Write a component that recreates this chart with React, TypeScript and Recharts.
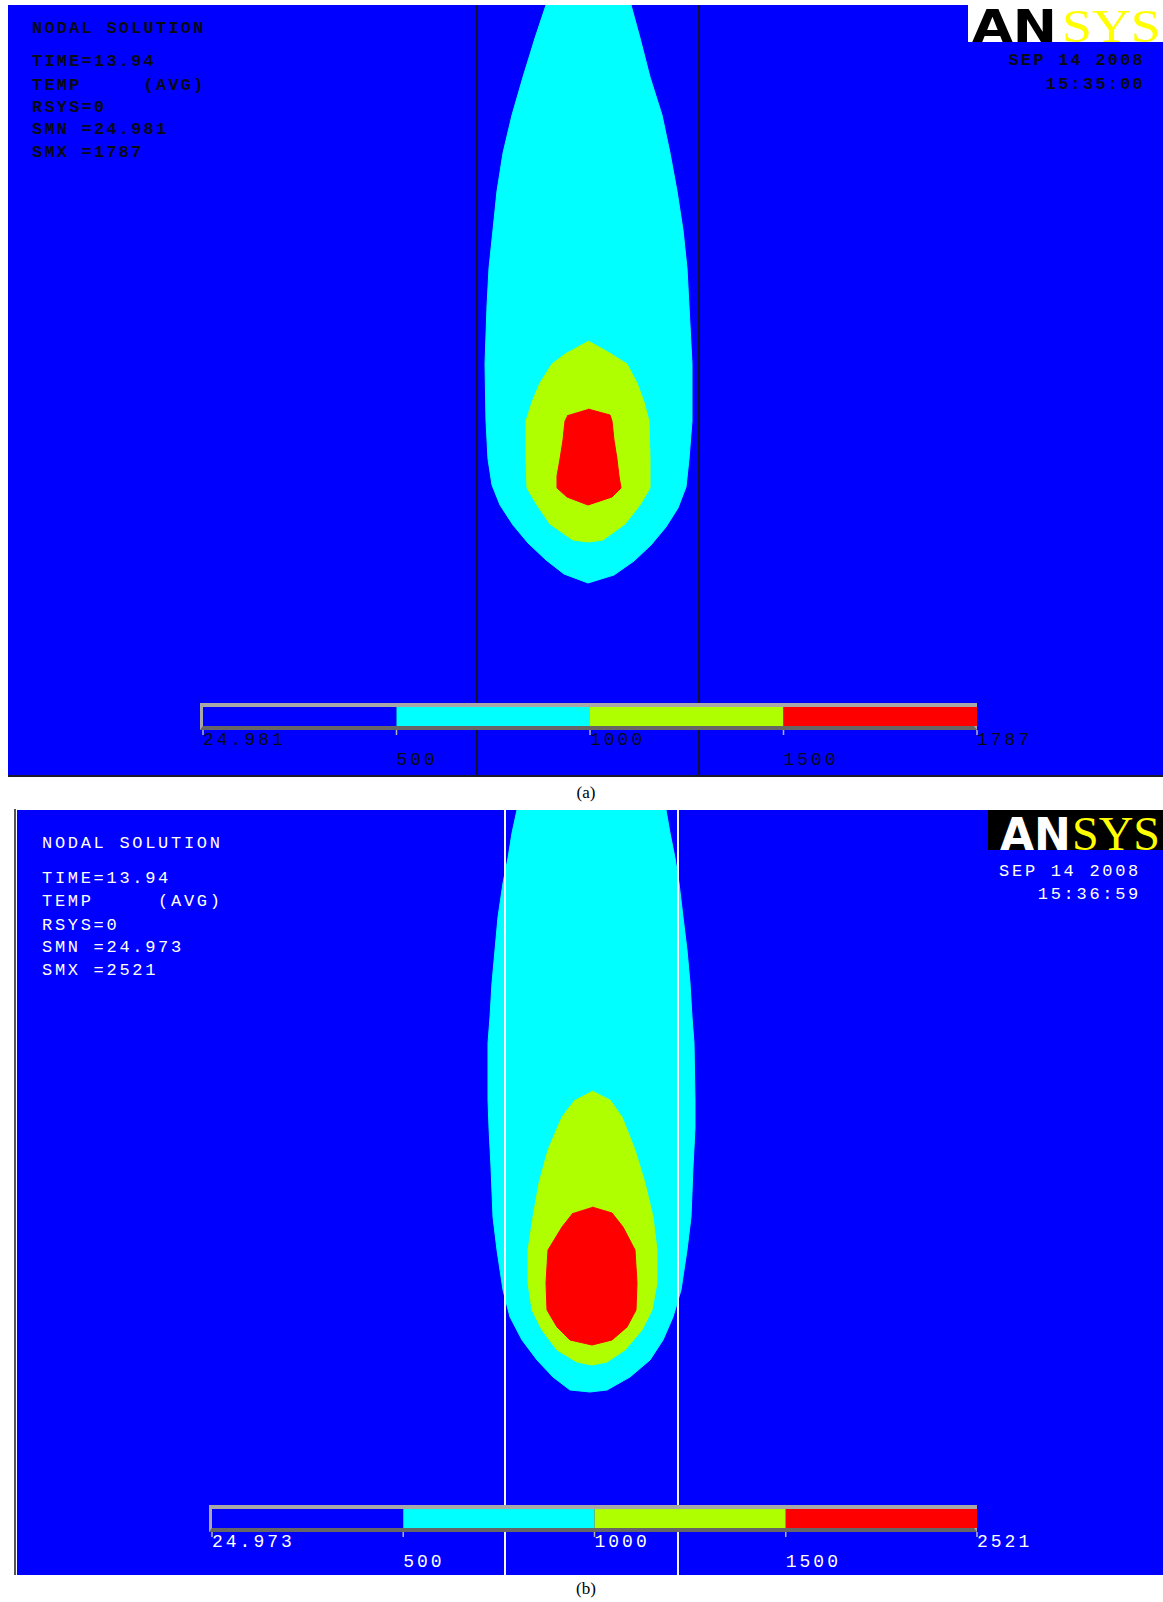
import React from "react";
import {
  Bar,
  BarChart,
  ComposedChart,
  ReferenceLine,
  Scatter,
  XAxis,
  YAxis,
} from "recharts";

type Pair = [number, number];

// isotherm outlines, in frame units
// (x from the frame's left edge, y down from its top edge)
const cyanA: Pair[] = [
  [538, 0], [527, 33], [515, 72], [504, 110], [495, 148], [489, 186], [485, 225],
  [481, 263], [479, 301], [477, 359], [478, 416], [480, 454], [484, 480], [492, 500],
  [505, 520], [520, 538], [538, 555], [556, 569], [580, 578], [606, 570], [626, 556],
  [643, 540], [658, 522], [670, 503], [678, 482], [681, 454], [684, 416], [684, 359],
  [681, 301], [679, 263], [675, 225], [669, 186], [662, 148], [654, 110], [642, 72],
  [632, 33], [623, 0],
];
const limeA: Pair[] = [
  [580, 336], [600, 347], [619, 359], [629, 378], [636, 397], [641, 416], [642, 454],
  [642, 483], [632, 500], [617, 519], [595, 535], [580, 537], [565, 535], [542, 519],
  [529, 500], [519, 483], [518, 454], [518, 416], [524, 397], [532, 378], [544, 359],
  [560, 347],
];
const redA: Pair[] = [
  [580, 404], [602, 410], [604, 416], [606, 435], [609, 454], [611, 471], [613, 483],
  [604, 492], [580, 500], [559, 492], [549, 483], [549, 471], [552, 454], [555, 435],
  [557, 416], [560, 410],
];

const cyanB: Pair[] = [
  [500, 0], [495, 23], [491, 48], [486, 73], [481, 107], [478, 140], [475, 173],
  [473, 207], [471, 233], [471, 290], [472, 318], [474, 357], [476, 407], [480, 440],
  [486, 480], [493, 507], [505, 530], [520, 550], [536, 567], [553, 580], [573, 582],
  [590, 580], [613, 567], [633, 550], [646, 530], [656, 507], [664, 480], [670, 440],
  [674, 407], [676, 357], [678, 318], [678, 290], [677, 233], [675, 207], [673, 173],
  [670, 140], [666, 107], [662, 73], [658, 48], [653, 23], [649, 0],
];
const limeB: Pair[] = [
  [575, 281], [593, 290], [605, 307], [618, 340], [628, 373], [636, 407], [640, 440],
  [640, 473], [635, 500], [625, 520], [608, 540], [590, 552], [575, 555], [560, 552],
  [540, 540], [525, 520], [515, 500], [511, 473], [511, 440], [516, 407], [522, 373],
  [531, 340], [545, 307], [558, 290],
];
const redB: Pair[] = [
  [575, 397], [595, 403], [606, 417], [618, 440], [620, 473], [619, 500], [610, 517],
  [595, 530], [575, 535], [553, 530], [540, 517], [530, 500], [529, 473], [531, 440],
  [545, 417], [556, 403],
];

// plate edges (element boundaries)
const edgesA = [469, 691];
const edgesB = [488, 661];

// contour legend: four equal bins between the ticks
const binWidths = [1, 1, 1, 1];
const ticksA = ["24.981", "500", "1000", "1500", "1787"];
const ticksB = ["24.973", "500", "1000", "1500", "2521"];

const headerA = ["NODAL SOLUTION", "TIME=13.94", "TEMP     (AVG)", "RSYS=0", "SMN =24.981", "SMX =1787"];
const headerB = ["NODAL SOLUTION", "TIME=13.94", "TEMP     (AVG)", "RSYS=0", "SMN =24.973", "SMX =2521"];
const stampA = ["SEP 14 2008", "15:35:00"];
const stampB = ["SEP 14 2008", "15:36:59"];

const BLUE = "#0000ff";
const CYAN = "#00ffff";
const LIME = "#b0ff00";
const RED = "#ff0000";
const binColors = [BLUE, CYAN, LIME, RED];

const MONO = "'Liberation Mono', 'DejaVu Sans Mono', monospace";

const toPts = (pairs: Pair[]) => pairs.map(([x, y]) => ({ x, y }));
const noDot = () => <g />;

function Field({
  w,
  h,
  layers,
  edges,
  edgeColor,
}: {
  w: number;
  h: number;
  layers: { name: string; pts: Pair[]; color: string }[];
  edges: number[];
  edgeColor: string;
}) {
  return (
    <ComposedChart
      height={h}
      margin={{ top: 0, right: 0, bottom: 0, left: 0 }}
      style={{ position: "absolute", left: 0, top: 0 }}
      width={w}
    >
      <XAxis dataKey="x" domain={[0, w]} hide type="number" />
      <YAxis dataKey="y" domain={[0, h]} hide reversed type="number" width={0} />
      {layers.map((l) => (
        <Scatter
          data={toPts(l.pts)}
          fill={l.color}
          isAnimationActive={false}
          key={l.name}
          line={{ fill: l.color, stroke: l.color, strokeWidth: 1 }}
          name={l.name}
          shape={noDot}
        />
      ))}
      {edges.map((x) => (
        <ReferenceLine
          key={x}
          stroke={edgeColor}
          strokeWidth={2}
          x={x}
          zIndex={700}
        />
      ))}
    </ComposedChart>
  );
}

function BinTick(props: any) {
  const { x, y, payload, labels, ink } = props;
  const i = payload.value as number;
  const low = i % 2 === 1;
  return (
    <g>
      <line stroke="#b4b4b4" strokeWidth={1.5} x1={x} x2={x} y1={y + 4} y2={y + 9} />
      <text
        fill={ink}
        fontFamily={MONO}
        fontSize={18}
        letterSpacing={3}
        textAnchor="start"
        x={x}
        y={y + (low ? 39 : 19)}
      >
        {labels[i]}
      </text>
    </g>
  );
}

function ColorBar({
  left,
  top,
  width,
  labels,
  ink,
}: {
  left: number;
  top: number;
  width: number;
  labels: string[];
  ink: string;
}) {
  const row: Record<string, number | string> = { bin: "T" };
  binWidths.forEach((v, i) => (row[`b${i}`] = v));
  const inner = width - 6;
  return (
    <div style={{ position: "absolute", left, top, width: inner + 150, height: 76 }}>
      <div
        style={{
          position: "absolute",
          left: 0,
          top: 0,
          width,
          height: 27,
          boxSizing: "border-box",
          borderTop: "4px solid #a8a8a8",
          borderLeft: "3px solid #a8a8a8",
          borderRight: "3px solid #a8a8a8",
          borderBottom: "4px solid #666666",
        }}
      />
      <BarChart
        barCategoryGap={0}
        data={[row]}
        height={76}
        layout="vertical"
        margin={{ top: 4, right: 144, bottom: 0, left: 3 }}
        style={{ position: "absolute", left: 0, top: 0 }}
        width={inner + 150}
      >
        <XAxis
          axisLine={false}
          domain={[0, binWidths.length]}
          height={53}
          interval={0}
          tick={(p: any) => <BinTick {...p} ink={ink} labels={labels} />}
          tickLine={false}
          tickMargin={0}
          tickSize={0}
          ticks={labels.map((_, i) => i)}
          type="number"
        />
        <YAxis dataKey="bin" hide type="category" width={0} />
        {binColors.map((c, i) => (
          <Bar
            dataKey={`b${i}`}
            fill={c}
            isAnimationActive={false}
            key={c}
            stackId="legend"
          />
        ))}
      </BarChart>
    </div>
  );
}

function TextLines({
  lines,
  left,
  right,
  centers,
  ink,
  spacing,
  bold,
}: {
  lines: string[];
  left?: number;
  right?: number;
  centers: number[];
  ink: string;
  spacing: number;
  bold?: boolean;
}) {
  return (
    <>
      {lines.map((t, i) => (
        <div
          key={t + i}
          style={{
            position: "absolute",
            left,
            right,
            top: centers[i] - 10,
            height: 20,
            lineHeight: "20px",
            fontFamily: MONO,
            fontSize: 17,
            fontWeight: bold ? 700 : 400,
            letterSpacing: spacing,
            color: ink,
            whiteSpace: "pre",
            textAlign: right != null ? "right" : "left",
          }}
        >
          {t}
        </div>
      ))}
    </>
  );
}

// logo box sits `pad` px below the top of its svg; extra room below for descents.
// glyphs are stretched sideways so the wide ANSYS lettering fits a short box
function Logo({
  left,
  top,
  pad,
  w,
  h,
  bg,
  an,
  anX,
  anSize,
  anStretch,
  sysX,
  sysSize,
  sysStretch,
}: {
  left: number;
  top: number;
  pad: number;
  w: number;
  h: number;
  bg: string;
  an: string;
  anX: number;
  anSize: number;
  anStretch: number;
  sysX: number;
  sysSize: number;
  sysStretch: number;
}) {
  const base = pad + h;
  return (
    <svg
      height={h + pad + 14}
      style={{ position: "absolute", left, top }}
      width={w}
    >
      <rect fill={bg} height={h} width={w} x={0} y={pad} />
      <text
        fill={an}
        fontFamily="'DejaVu Sans', sans-serif"
        fontSize={anSize}
        fontWeight={700}
        transform={`translate(${anX},${base}) scale(${anStretch},1)`}
        x={0}
        y={0}
      >
        AN
      </text>
      <text
        fill="#ffff00"
        fontFamily="'Liberation Serif', serif"
        fontSize={sysSize}
        transform={`translate(${sysX},${base}) scale(${sysStretch},1)`}
        x={0}
        y={0}
      >
        SYS
      </text>
    </svg>
  );
}

function Caption({ text, y }: { text: string; y: number }) {
  return (
    <div
      style={{
        position: "absolute",
        left: 556,
        top: y - 11,
        width: 60,
        textAlign: "center",
        fontFamily: "'Liberation Serif', serif",
        fontSize: 17,
        lineHeight: "22px",
        color: "#000",
      }}
    >
      {text}
    </div>
  );
}

export default function App() {
  const wA = 1155;
  const hA = 772;
  const wB = 1146;
  const hB = 765;
  return (
    <div
      style={{
        position: "absolute",
        left: 0,
        top: 0,
        width: 1163,
        height: 1602,
        background: "#ffffff",
        overflow: "hidden",
      }}
    >
      {/* (a) */}
      <div
        style={{
          position: "absolute",
          left: 8,
          top: 5,
          width: wA,
          height: hA,
          background: BLUE,
          overflow: "hidden",
        }}
      >
        <Field
          edgeColor="#101030"
          edges={edgesA}
          h={hA}
          layers={[
            { name: "500-1000", pts: cyanA, color: CYAN },
            { name: "1000-1500", pts: limeA, color: LIME },
            { name: "1500-1787", pts: redA, color: RED },
          ]}
          w={wA}
        />
        <TextLines
          bold
          centers={[24, 57, 81, 103, 125, 148]}
          ink="#0a0a14"
          left={24}
          lines={headerA}
          spacing={2.2}
        />
        <TextLines
          bold
          centers={[56, 80]}
          ink="#0a0a14"
          lines={stampA}
          right={18}
          spacing={2.2}
        />
        <ColorBar ink="#0a0a14" labels={ticksA} left={192} top={698} width={777} />
        <div
          style={{
            position: "absolute",
            left: 0,
            bottom: 0,
            width: wA,
            height: 2,
            background: "#1a1a2a",
          }}
        />
      </div>
      <Logo
        an="#000000"
        anSize={44}
        anStretch={1.2}
        anX={4}
        bg="#ffffff"
        h={37}
        left={968}
        pad={5}
        sysSize={46}
        sysStretch={1.17}
        sysX={94}
        top={0}
        w={195}
      />
      <Caption text="(a)" y={793} />

      {/* (b) */}
      <div
        style={{
          position: "absolute",
          left: 14,
          top: 809,
          width: 2,
          height: hB + 1,
          background: "#555555",
        }}
      />
      <div
        style={{
          position: "absolute",
          left: 17,
          top: 810,
          width: wB,
          height: hB,
          background: BLUE,
          overflow: "hidden",
        }}
      >
        <Field
          edgeColor="#f4f4ff"
          edges={edgesB}
          h={hB}
          layers={[
            { name: "500-1000", pts: cyanB, color: CYAN },
            { name: "1000-1500", pts: limeB, color: LIME },
            { name: "1500-2521", pts: redB, color: RED },
          ]}
          w={wB}
        />
        <TextLines
          centers={[34, 69, 92, 116, 138, 161]}
          ink="#ffffff"
          left={25}
          lines={headerB}
          spacing={2.7}
        />
        <TextLines
          centers={[62, 85]}
          ink="#ffffff"
          lines={stampB}
          right={22}
          spacing={2.7}
        />
        <ColorBar ink="#ffffff" labels={ticksB} left={192} top={695} width={768} />
      </div>
      <Logo
        an="#ffffff"
        anSize={44}
        anStretch={1}
        anX={12}
        bg="#000000"
        h={40}
        left={988}
        pad={14}
        sysSize={48}
        sysStretch={1}
        sysX={84}
        top={796}
        w={175}
      />
      <Caption text="(b)" y={1589} />
    </div>
  );
}
